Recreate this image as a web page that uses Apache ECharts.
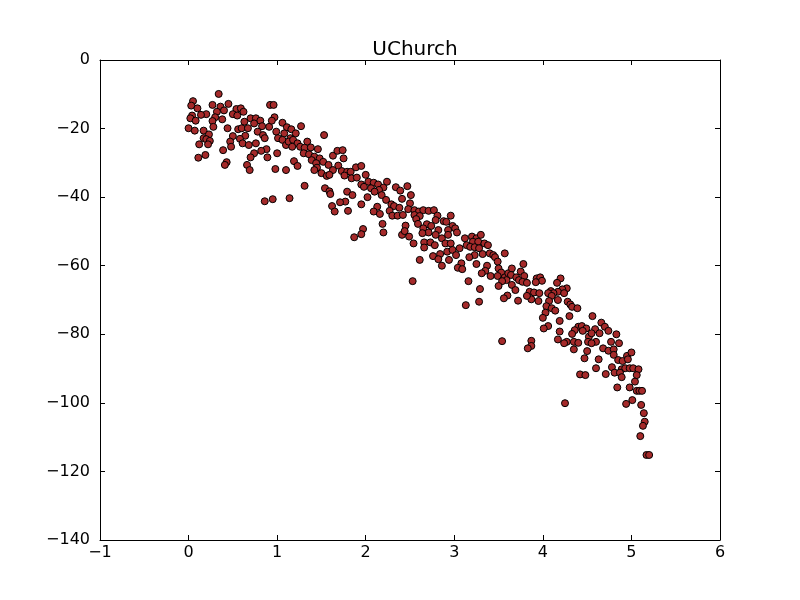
<!DOCTYPE html>
<html>
<head>
<meta charset="utf-8">
<script src="https://cdn.jsdelivr.net/npm/echarts@6/dist/echarts.min.js"></script>
<style>
  html, body { margin: 0; padding: 0; background: #fff; }
  #chart { width: 800px; height: 600px; }
</style>
</head>
<body>
<div id="chart"></div>
<script>
// points, [x, y], grouped by x range
const band1 = [
  [0.34,-9.9],[0.05,-12.0],[0.03,-13.3],[0.10,-14.1],[0.27,-13.1],[0.36,-13.6],[0.45,-12.8],[0.54,-14.3],
  [0.59,-14.1],[0.62,-15.1],[0.40,-14.7],[0.32,-15.1],[0.20,-15.8],[0.14,-16.0],[0.04,-16.2],[0.02,-17.0],
  [0.08,-17.7],[0.30,-16.7],[0.38,-17.3],[0.27,-17.8],[0.50,-15.8],[0.55,-16.2],[0.63,-18.0],[0.70,-17.0],
  [0.76,-17.0],[0.81,-17.7],[0.74,-18.5],[0.83,-19.3],[0.91,-19.5],[0.97,-16.7],[0.94,-17.7],[0.92,-13.1],
  [0.96,-13.1],[0.00,-19.9],[0.07,-20.6],[0.17,-20.6],[0.23,-21.7],[0.28,-19.5],[0.44,-19.9],[0.56,-20.2],
  [0.60,-19.9],[0.67,-19.9],[0.78,-20.9],[0.99,-20.9],[0.50,-22.2],[0.17,-22.8],[0.20,-23.1],[0.24,-23.6],
  [0.64,-22.1],[0.84,-21.9],[0.58,-23.0],[0.12,-24.6],[0.22,-24.6],[0.47,-23.8],[0.61,-24.3],[0.68,-24.8],
  [0.76,-24.3],[0.86,-22.8],[0.48,-25.3],[0.39,-26.3],[0.88,-26.0],[0.82,-26.5],[1.00,-27.2],[0.74,-27.2],
  [0.70,-28.4],[0.89,-28.4],[0.11,-28.5],[0.19,-27.7],[0.43,-29.8],[0.41,-30.6],[0.66,-30.6],[0.69,-32.1],
  [0.98,-31.8]
];

const band2 = [
  [1.06,-18.3],[1.11,-19.6],[1.16,-20.2],[1.27,-19.3],[1.08,-21.4],[1.21,-21.4],[1.15,-22.8],[1.01,-22.8],
  [1.06,-23.3],[1.10,-24.8],[1.13,-23.8],[1.18,-23.3],[1.23,-24.3],[1.17,-25.3],[1.26,-25.3],[1.34,-23.8],
  [1.31,-25.6],[1.38,-25.5],[1.46,-26.0],[1.53,-21.9],[1.30,-27.2],[1.36,-27.5],[1.42,-28.2],[1.48,-28.7],
  [1.63,-27.9],[1.68,-26.5],[1.74,-26.3],[1.75,-28.7],[1.39,-29.2],[1.44,-30.1],[1.52,-29.7],[1.58,-30.6],
  [1.69,-30.8],[1.19,-29.5],[1.23,-30.9],[1.10,-32.1],[1.45,-31.4],[1.42,-32.1],[1.50,-33.0],[1.56,-33.8],
  [1.63,-32.1],[1.73,-32.4],[1.79,-32.6],[1.83,-32.6],[1.89,-31.3],[1.76,-33.7],[1.84,-34.5],[1.90,-34.3],
  [1.59,-33.5],[1.31,-36.7],[1.54,-37.4],[1.59,-38.3],[1.60,-39.1],[1.79,-38.4],[1.85,-39.4],[1.77,-41.3],
  [1.71,-41.5],[1.62,-42.6],[1.65,-44.2],[1.80,-44.0],[0.95,-40.6],[1.14,-40.3],[0.86,-41.2],[1.87,-51.7]
];

const band3 = [
  [1.95,-30.9],[2.00,-33.5],[1.95,-36.3],[2.03,-35.5],[2.09,-35.8],[1.98,-37.0],[2.06,-37.4],[2.14,-36.3],
  [2.20,-37.2],[2.24,-35.5],[2.15,-37.9],[2.10,-38.4],[2.02,-40.0],[1.95,-42.1],[2.34,-37.1],[2.39,-38.1],
  [2.47,-36.8],[2.51,-39.4],[2.18,-39.4],[2.23,-40.8],[2.29,-42.1],[2.32,-42.6],[2.38,-43.1],[2.41,-40.5],
  [2.50,-41.8],[2.48,-43.5],[2.55,-43.8],[2.60,-44.2],[2.65,-43.8],[2.71,-44.0],[2.77,-43.8],[2.13,-42.8],
  [2.09,-44.2],[2.16,-44.9],[2.27,-44.0],[2.30,-45.4],[2.36,-45.4],[2.42,-45.2],[2.55,-45.2],[2.61,-45.5],
  [2.57,-46.4],[2.59,-47.8],[2.81,-45.4],[2.79,-46.7],[2.88,-47.0],[2.19,-47.8],[2.45,-48.3],[2.69,-47.9],
  [2.74,-48.4],[2.65,-49.1],[2.71,-50.3],[2.82,-49.6],[1.97,-49.3],[1.95,-50.8],[2.20,-50.3],[2.41,-51.0],
  [2.44,-49.9],[2.49,-51.5],[2.64,-50.5],[2.79,-51.0],[2.86,-52.0],[2.66,-53.2],[2.73,-53.2],[2.54,-53.5],
  [2.66,-54.7],[2.78,-54.0],[2.84,-56.6],[2.76,-57.2],[2.82,-58.1],[2.61,-58.3],[2.86,-60.0],[2.53,-64.5],
  [2.90,-53.5],[2.92,-55.9]
];

const band4 = [
  [2.96,-45.4],[2.91,-47.2],[2.98,-48.4],[3.01,-49.1],[3.03,-50.3],[2.93,-49.6],[2.93,-51.0],[2.96,-53.5],
  [2.98,-55.4],[3.06,-54.9],[3.02,-56.9],[2.94,-58.3],[3.12,-52.0],[3.20,-51.5],[3.25,-52.0],[3.30,-51.0],
  [3.21,-53.0],[3.27,-53.0],[3.14,-54.0],[3.18,-54.5],[3.23,-54.6],[3.34,-53.5],[3.38,-54.0],[3.28,-54.9],
  [3.23,-56.9],[3.17,-57.5],[3.32,-56.6],[3.40,-56.4],[3.44,-56.9],[3.46,-57.5],[3.49,-58.8],[3.57,-56.4],
  [3.25,-59.5],[3.08,-59.3],[3.04,-60.6],[3.09,-61.0],[3.37,-60.0],[3.35,-61.5],[3.31,-62.2],[3.41,-63.0],
  [3.50,-60.8],[3.53,-62.0],[3.49,-63.0],[3.57,-63.4],[3.61,-62.2],[3.65,-60.8],[3.64,-62.7],[3.70,-63.4],
  [3.75,-61.7],[3.78,-59.5],[3.79,-63.0],[3.73,-64.2],[3.59,-64.2],[3.54,-64.5],[3.65,-65.6],[3.77,-64.7],
  [3.50,-65.9],[3.16,-64.5],[3.29,-66.8],[3.69,-67.1],[3.60,-68.7],[3.56,-69.5],[3.72,-70.2],[3.87,-69.8],
  [3.28,-70.5],[3.13,-71.5],[3.54,-82.0]
];

const band5 = [
  [3.82,-65.0],[3.93,-63.7],[3.97,-63.4],[3.99,-64.4],[3.92,-64.8],[4.20,-63.7],[4.16,-65.0],[4.27,-66.6],
  [4.22,-66.9],[4.17,-67.6],[4.24,-68.0],[3.85,-67.6],[3.90,-67.8],[3.96,-68.0],[3.82,-68.8],[4.09,-67.4],
  [4.12,-68.0],[4.06,-68.0],[4.10,-68.8],[3.95,-70.3],[4.07,-70.3],[4.17,-70.0],[4.04,-71.8],[4.10,-72.4],
  [4.14,-73.1],[4.28,-70.5],[4.31,-71.3],[4.33,-72.0],[4.39,-72.4],[4.03,-73.7],[4.00,-75.2],[4.30,-74.7],
  [4.19,-76.1],[4.06,-77.6],[4.01,-78.3],[4.40,-77.8],[4.44,-77.6],[4.49,-78.3],[4.36,-78.8],[4.45,-79.0],
  [4.19,-79.2],[4.33,-79.9],[4.52,-80.7],[4.17,-81.5],[4.27,-82.2],[4.24,-82.6],[4.35,-82.2],[4.40,-82.5],
  [4.51,-82.2],[3.87,-81.9],[3.87,-83.4],[3.83,-84.1],[4.35,-84.4],[4.50,-84.9],[4.47,-87.0],[4.42,-91.7],
  [4.48,-91.9],[4.25,-100.1]
];

const band6 = [
  [4.56,-74.7],[4.66,-76.6],[4.70,-77.8],[4.74,-79.0],[4.59,-78.5],[4.64,-79.7],[4.55,-79.7],[4.83,-80.0],
  [4.77,-82.2],[4.86,-82.6],[4.60,-82.2],[4.55,-82.6],[4.68,-84.1],[4.74,-84.8],[4.80,-84.4],[4.80,-86.0],
  [4.95,-86.3],[5.00,-85.3],[4.85,-87.5],[4.90,-87.8],[4.96,-87.3],[4.63,-87.3],[4.60,-89.9],[4.78,-89.6],
  [4.71,-91.6],[4.81,-91.2],[4.89,-90.2],[4.93,-89.9],[4.98,-89.9],[5.02,-89.9],[5.08,-90.2],[4.87,-91.2],
  [4.89,-92.5],[5.06,-91.9],[5.04,-93.8],[4.84,-95.5],[4.98,-95.5],[5.06,-96.5],[5.09,-96.5],[5.12,-96.5],
  [5.01,-99.2],[4.94,-100.3],[5.11,-100.6],[5.14,-103.0],[5.15,-105.5],[5.13,-106.7],[5.10,-109.7],
  [5.17,-115.2],[5.20,-115.2]
];

const xRange = [-1, 6];
const yRange = [-140, 0];
const chartTitle = 'UChurch';

const points = [].concat(band1, band2, band3, band4, band5, band6);

const minus = v => String(v).replace('-', '\u2212');
const labelFont = { color: '#000', fontSize: 16, fontFamily: 'DejaVu Sans' };

const myChart = echarts.init(document.getElementById('chart'));
const option = {
  backgroundColor: '#fff',
  animation: false,
  title: {
    text: chartTitle,
    left: 410,
    top: 35,
    textAlign: 'center',
    textStyle: { color: '#000', fontSize: 20, fontWeight: 'normal', fontFamily: 'DejaVu Sans' }
  },
  grid: { left: 100, right: 80, top: 60, bottom: 60, show: false },
  xAxis: [
    {
      type: 'value', min: xRange[0], max: xRange[1], interval: 1,
      axisLine: { onZero: false, lineStyle: { color: '#000', width: 1 } },
      axisTick: { inside: true, length: 5, lineStyle: { color: '#000' } },
      axisLabel: Object.assign({ margin: 5, formatter: minus }, labelFont),
      splitLine: { show: false }
    },
    {
      type: 'value', position: 'top', min: xRange[0], max: xRange[1], interval: 1,
      axisLine: { onZero: false, lineStyle: { color: '#000', width: 1 } },
      axisTick: { inside: true, length: 5, lineStyle: { color: '#000' } },
      axisLabel: { show: false },
      splitLine: { show: false }
    }
  ],
  yAxis: [
    {
      type: 'value', min: yRange[0], max: yRange[1], interval: 20,
      axisLine: { onZero: false, lineStyle: { color: '#000', width: 1 } },
      axisTick: { inside: true, length: 5, lineStyle: { color: '#000' } },
      axisLabel: Object.assign({ margin: 10, formatter: minus }, labelFont),
      splitLine: { show: false }
    },
    {
      type: 'value', position: 'right', min: yRange[0], max: yRange[1], interval: 20,
      axisLine: { onZero: false, lineStyle: { color: '#000', width: 1 } },
      axisTick: { inside: true, length: 5, lineStyle: { color: '#000' } },
      axisLabel: { show: false },
      splitLine: { show: false }
    }
  ],
  series: [
    {
      type: 'scatter',
      data: points,
      symbol: 'circle',
      symbolSize: 7,
      itemStyle: { color: '#a52a2a', borderColor: '#000', borderWidth: 1, opacity: 1 }
    }
  ]
};
myChart.setOption(option);
</script>
</body>
</html>
